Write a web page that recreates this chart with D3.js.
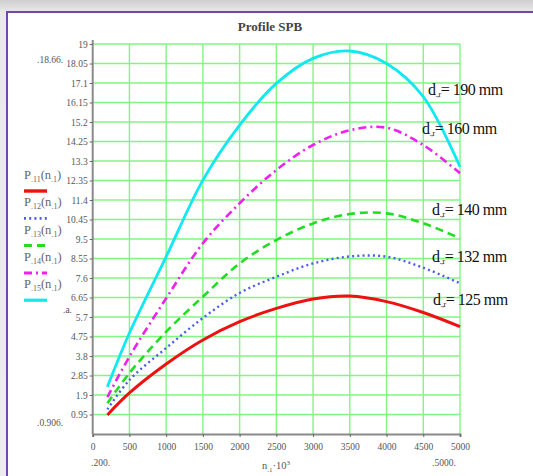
<!DOCTYPE html>
<html>
<head>
<meta charset="utf-8">
<script src="https://cdn.jsdelivr.net/npm/d3@7"></script>
<style>
  html, body { margin: 0; padding: 0; }
  body { width: 533px; height: 476px; overflow: hidden; background: linear-gradient(#cfcfcf, #e9e9e9 12px, #ececec); }
  svg { display: block; }
</style>
</head>
<body>
<svg id="chart" width="533" height="476"></svg>
<script>
// Speed of the driving pulley, n1 (×10³ rpm scale as labelled)
const speeds = [200, 500, 1000, 1500, 2000, 2500, 3000, 3500, 4000, 4500, 5000];

// Power per belt for each pulley diameter (profile SPB)
const p11 = [0.93, 2.0, 3.41, 4.58, 5.47, 6.12, 6.58, 6.72, 6.45, 5.92, 5.23];   // d = 125 mm
const p12 = [1.2, 2.63, 4.19, 5.65, 6.87, 7.66, 8.31, 8.65, 8.64, 8.1, 7.34];    // d = 132 mm
const p13 = [1.5, 2.97, 4.98, 6.69, 8.31, 9.45, 10.26, 10.72, 10.75, 10.27, 9.53]; // d = 140 mm
const p14 = [1.8, 3.77, 6.61, 9.29, 11.24, 12.86, 14.08, 14.8, 14.92, 14.08, 12.7]; // d = 160 mm
const p15 = [2.3, 4.92, 8.64, 12.37, 15.05, 17.08, 18.3, 18.66, 18.05, 16.43, 13.02]; // d = 190 mm

const seriesNames = ["11", "12", "13", "14", "15"];
const diameterLabels = ["125 mm", "132 mm", "140 mm", "160 mm", "190 mm"];

const xTicks = [0, 500, 1000, 1500, 2000, 2500, 3000, 3500, 4000, 4500, 5000];
const yTicks = [0.95, 1.9, 2.85, 3.8, 4.75, 5.7, 6.65, 7.6, 8.55, 9.5, 10.45,
                11.4, 12.35, 13.3, 14.25, 15.2, 16.15, 17.1, 18.05, 19];

const svg = d3.select("#chart");

// white panel with purple frame
svg.append("rect").attr("x", 7).attr("y", 12).attr("width", 540).attr("height", 480)
  .attr("fill", "#ffffff").attr("stroke", "#7446a8").attr("stroke-width", 2);

const x = d3.scaleLinear().domain([0, 5000]).range([92.7, 460]);
const y = d3.scaleLinear().domain([0, 19]).range([434, 44]);

const serif = "'Liberation Serif', 'DejaVu Serif', serif";

// title
svg.append("text").attr("x", 270).attr("y", 31).attr("text-anchor", "middle")
  .attr("font-family", serif).attr("font-weight", "bold").attr("font-size", 13)
  .attr("fill", "#444").text("Profile SPB");

// grid
const grid = svg.append("g").attr("stroke", "#6cf56c").attr("stroke-width", 1.4).attr("opacity", 0.85);
grid.selectAll("line.h").data(yTicks).join("line").attr("class", "h")
  .attr("x1", x(0)).attr("x2", x(5000)).attr("y1", d => y(d)).attr("y2", d => y(d));
grid.selectAll("line.v").data(xTicks.slice(1)).join("line").attr("class", "v")
  .attr("x1", d => x(d)).attr("x2", d => x(d)).attr("y1", y(0)).attr("y2", y(19));

// axes
const yAxis = d3.axisLeft(y).tickValues(yTicks).tickSize(3).tickPadding(2)
  .tickFormat(d => String(+d.toFixed(2)));
const gy = svg.append("g").attr("transform", `translate(${x(0)},0)`).call(yAxis);
const xAxis = d3.axisBottom(x).tickValues(xTicks).tickSize(3).tickPadding(6).tickFormat(d3.format("d"));
const gx = svg.append("g").attr("transform", `translate(0,${y(0)})`).call(xAxis);
[gx, gy].forEach(g => {
  g.select(".domain").attr("stroke", "#8a8a8a").attr("stroke-width", 2);
  g.selectAll(".tick line").attr("stroke", "#666");
  g.selectAll(".tick text").attr("font-family", serif).attr("font-size", 9.5).attr("fill", "#555");
});
gy.select(".domain").attr("d", `M0,${y(19) - 4}V${y(0)}`);

// curves
const line = d3.line().x((d, i) => x(speeds[i])).y(d => y(d)).curve(d3.curveCatmullRom.alpha(0.5));
const styles = [
  { data: p11, color: "#ee1111", width: 3, dash: null },
  { data: p12, color: "#4a5cf0", width: 2.4, dash: "2,3.2" },
  { data: p13, color: "#22dd22", width: 2.6, dash: "8,5" },
  { data: p14, color: "#ee22ee", width: 2.6, dash: "8,4,2,4" },
  { data: p15, color: "#11e8f0", width: 2.8, dash: null }
];
styles.forEach(s => {
  svg.append("path").attr("d", line(s.data)).attr("fill", "none")
    .attr("stroke", s.color).attr("stroke-width", s.width)
    .attr("stroke-dasharray", s.dash);
});

// legend on the left
styles.forEach((s, i) => {
  const ty = 179 + i * 27.3;
  const t = svg.append("text").attr("x", 24).attr("y", ty)
    .attr("font-family", serif).attr("font-size", 12.5).attr("fill", "#666");
  t.append("tspan").text("P");
  t.append("tspan").attr("font-size", 8).attr("dy", 3).text("." + seriesNames[i]);
  t.append("tspan").attr("dy", -3).text("(n");
  t.append("tspan").attr("font-size", 8).attr("dy", 3).text(".1");
  t.append("tspan").attr("dy", -3).text(")");
  svg.append("line").attr("x1", 24).attr("x2", 47).attr("y1", ty + 12).attr("y2", ty + 12)
    .attr("stroke", s.color).attr("stroke-width", s.width + 0.4)
    .attr("stroke-dasharray", s.dash);
});

// axis limit annotations
const small = (tx, ty, str, anchor) => svg.append("text").attr("x", tx).attr("y", ty)
  .attr("text-anchor", anchor || "start").attr("font-family", serif)
  .attr("font-size", 9.5).attr("fill", "#555").text(str);
small(37, 63, ".18.66.");
small(37, 426, ".0.906.");
small(63, 313, ".a.");
small(91, 466, ".200.");
small(432, 466, ".5000.");
const xl = svg.append("text").attr("x", 262).attr("y", 469)
  .attr("font-family", serif).attr("font-size", 10.5).attr("fill", "#555");
xl.append("tspan").text("n");
xl.append("tspan").attr("font-size", 7).attr("dy", 3).text(".1");
xl.append("tspan").attr("dy", -3).text("·10");
xl.append("tspan").attr("font-size", 7).attr("dy", -4).text("3");

// diameter labels next to the curve ends
const labelPos = [
  { x: 433, y: 305 }, { x: 432, y: 262 }, { x: 432, y: 215 }, { x: 422, y: 134 }, { x: 428, y: 95 }
];
diameterLabels.forEach((lab, i) => {
  const t = svg.append("text").attr("x", labelPos[i].x).attr("y", labelPos[i].y)
    .attr("font-family", serif).attr("font-size", 16).attr("fill", "#111")
    .attr("letter-spacing", -0.5);
  t.append("tspan").text("d");
  t.append("tspan").attr("font-size", 8).attr("dy", 2).text(".,r");
  t.append("tspan").attr("dy", -2).text("= " + lab);
});
</script>
</body>
</html>
